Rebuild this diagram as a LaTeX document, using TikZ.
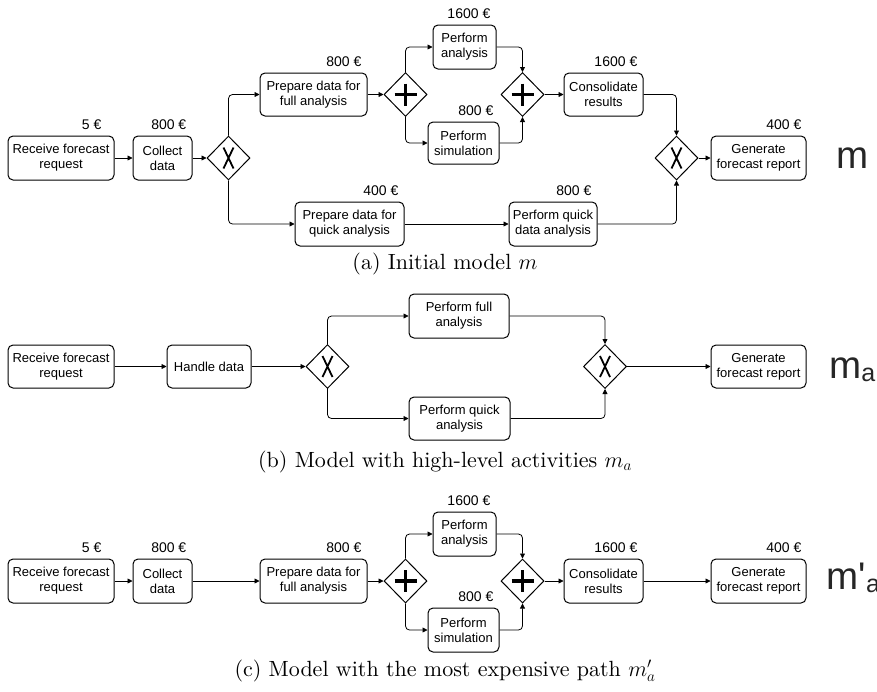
\documentclass[tikz,border=0pt]{standalone}
\usepackage{fontspec}
\newfontfamily\arialf{Liberation Sans}
\newfontfamily\capfont{lmroman10-regular}[Extension=.otf]
\usetikzlibrary{shapes.geometric,arrows.meta}
\tikzset{
 task/.style={draw, line width=1pt, rounded corners=5pt, align=center, inner sep=0pt, font=\arialf\fontsize{13}{15}\selectfont},
 gw/.style={draw, diamond, line width=1pt, minimum width=43pt, minimum height=44pt, inner sep=0pt},
 cost/.style={anchor=base east, inner sep=0pt, font=\arialf\fontsize{14}{16}\selectfont},
 flow/.style={line width=0.8pt, rounded corners=4pt, -{Triangle[length=5pt,width=5pt]}},
 xmark/.style={line width=1.8pt},
 pmark/.style={line width=3.6pt},
 capt/.style={anchor=base, inner sep=0pt, font=\capfont\fontsize{22}{26}\selectfont},
 model/.style={anchor=base west, inner sep=0pt, font=\arialf\fontsize{38.5}{40}\selectfont, text=black!85},
}
\newcommand\gwx[1]{\draw[xmark] ([shift={(-5,-10.5)}]#1.center) -- ([shift={(5,10.5)}]#1.center) ([shift={(5,-10.5)}]#1.center) -- ([shift={(-5,10.5)}]#1.center);}
\newcommand\gwplus[1]{\draw[pmark] ([shift={(-11,0)}]#1.center) -- ([shift={(11,0)}]#1.center) ([shift={(0,-11)}]#1.center) -- ([shift={(0,11)}]#1.center);}
\newcommand\subA{\raisebox{-3.5pt}{\fontsize{25}{28}\selectfont a}}
\newcommand\mathbig[1]{\scalebox{1.06}{$#1$}}
\begin{document}
\begin{tikzpicture}[x=1pt,y=-1pt]
\useasboundingbox (0,0) rectangle (877,691);
% ---------------- (a) ----------------
\node[task, minimum width=106pt, minimum height=44pt] (a1) at (61,158) {Receive forecast\\request};
\node[task, minimum width=59pt, minimum height=44pt] (a2) at (162.5,158) {Collect\\data};
\node[gw] (ax1) at (228.5,158) {};
\node[task, minimum width=107pt, minimum height=43pt] (a3) at (313.5,94.5) {Prepare data for\\full analysis};
\node[gw] (ap1) at (405.5,94.5) {};
\node[task, minimum width=63pt, minimum height=44pt] (a4) at (464.5,47) {Perform\\analysis};
\node[task, minimum width=71pt, minimum height=42pt] (a5) at (463.5,143) {Perform\\simulation};
\node[gw] (ap2) at (522.5,94.5) {};
\node[task, minimum width=79pt, minimum height=43pt] (a6) at (603.5,94.5) {Consolidate\\results};
\node[task, minimum width=109pt, minimum height=44pt] (a7) at (349.5,224) {Prepare data for\\quick analysis};
\node[task, minimum width=88pt, minimum height=44pt] (a8) at (553,224) {Perform quick\\data analysis};
\node[gw] (ax2) at (676.5,158) {};
\node[task, minimum width=95pt, minimum height=44pt] (a9) at (758.5,158) {Generate\\forecast report};
\gwx{ax1} \gwx{ax2} \gwplus{ap1} \gwplus{ap2}
\node[cost] (ca1) at ([shift={(-13,-6)}]a1.north east) {5 €};
\node[cost] (ca2) at ([shift={(-6,-6)}]a2.north east) {800 €};
\node[cost] (ca3) at ([shift={(-6,-6.5)}]a3.north east) {800 €};
\node[cost] (ca4) at ([shift={(-6,-6.5)}]a4.north east) {1600 €};
\node[cost] (ca5) at ([shift={(-6,-6.5)}]a5.north east) {800 €};
\node[cost] (ca6) at ([shift={(-6,-6.5)}]a6.north east) {1600 €};
\node[cost] (ca7) at ([shift={(-6,-6.5)}]a7.north east) {400 €};
\node[cost] (ca8) at ([shift={(-6,-6.5)}]a8.north east) {800 €};
\node[cost] (ca9) at ([shift={(-5,-6)}]a9.north east) {400 €};
\draw[flow] (a1) -- (a2);
\draw[flow] (a2) -- (ax1);
\draw[flow] (ax1.north) |- (a3.west);
\draw[flow] (ax1.south) |- (a7.west);
\draw[flow] (a3) -- (ap1);
\draw[flow] (ap1.north) |- (a4.west);
\draw[flow] (ap1.south) |- (a5.west);
\draw[flow] (a4.east) -| (ap2.north);
\draw[flow] (a5.east) -| (ap2.south);
\draw[flow] (ap2) -- (a6);
\draw[flow] (a6.east) -| (ax2.north);
\draw[flow] (a7) -- (a8);
\draw[flow] (a8.east) -| (ax2.south);
\draw[flow] (ax2) -- (a9);
\node[model] (ma) at (836.5,168) {m};
\node[capt] (capa) at (445,269) {(a) Initial model \mathbig{m}};
% ---------------- (b) ----------------
\node[task, minimum width=106pt, minimum height=43pt] (b1) at (61,366.5) {Receive forecast\\request};
\node[task, minimum width=84pt, minimum height=43pt] (b2) at (209,366.5) {Handle data};
\node[gw] (bx1) at (327.5,366.5) {};
\node[task, minimum width=100pt, minimum height=44pt] (b3) at (459,316) {Perform full\\analysis};
\node[task, minimum width=101pt, minimum height=43pt] (b4) at (459.5,418.5) {Perform quick\\analysis};
\node[gw] (bx2) at (605,366.5) {};
\node[task, minimum width=95pt, minimum height=43pt] (b5) at (758.5,366.5) {Generate\\forecast report};
\gwx{bx1} \gwx{bx2}
\draw[flow] (b1) -- (b2);
\draw[flow] (b2) -- (bx1);
\draw[flow] (bx1.north) |- (b3.west);
\draw[flow] (bx1.south) |- (b4.west);
\draw[flow] (b3.east) -| (bx2.north);
\draw[flow] (b4.east) -| (bx2.south);
\draw[flow] (bx2) -- (b5);
\node[model] (mb) at (829,378) {m\subA};
\node[capt] (capb) at (445,467) {(b) Model with high-level activities \mathbig{m_a}};
% ---------------- (c) ----------------
\node[task, minimum width=106pt, minimum height=44pt] (c1) at (61,581) {Receive forecast\\request};
\node[task, minimum width=59pt, minimum height=44pt] (c2) at (162.5,581) {Collect\\data};
\node[task, minimum width=107pt, minimum height=44pt] (c3) at (313.5,581) {Prepare data for\\full analysis};
\node[gw] (cp1) at (405.5,581) {};
\node[task, minimum width=63pt, minimum height=44pt] (c4) at (464.5,534) {Perform\\analysis};
\node[task, minimum width=71pt, minimum height=44pt] (c5) at (463.5,630) {Perform\\simulation};
\node[gw] (cp2) at (522.5,581) {};
\node[task, minimum width=79pt, minimum height=44pt] (c6) at (603.5,581) {Consolidate\\results};
\node[task, minimum width=95pt, minimum height=44pt] (c7) at (758.5,581) {Generate\\forecast report};
\gwplus{cp1} \gwplus{cp2}
\node[cost] (cc1) at ([shift={(-13,-6)}]c1.north east) {5 €};
\node[cost] (cc2) at ([shift={(-6,-6)}]c2.north east) {800 €};
\node[cost] (cc3) at ([shift={(-6,-6)}]c3.north east) {800 €};
\node[cost] (cc4) at ([shift={(-6,-6.5)}]c4.north east) {1600 €};
\node[cost] (cc5) at ([shift={(-6,-6.5)}]c5.north east) {800 €};
\node[cost] (cc6) at ([shift={(-6,-6)}]c6.north east) {1600 €};
\node[cost] (cc7) at ([shift={(-5,-6)}]c7.north east) {400 €};
\draw[flow] (c1) -- (c2);
\draw[flow] (c2) -- (c3);
\draw[flow] (c3) -- (cp1);
\draw[flow] (cp1.north) |- (c4.west);
\draw[flow] (cp1.south) |- (c5.west);
\draw[flow] (c4.east) -| (cp2.north);
\draw[flow] (c5.east) -| (cp2.south);
\draw[flow] (cp2) -- (c6);
\draw[flow] (c6) -- (c7);
\node[model] (mc) at (826.5,589) {m'\subA};
\node[capt] (capc) at (445,676) {(c) Model with the most expensive path \mathbig{m'_a}};
\end{tikzpicture}
\end{document}
